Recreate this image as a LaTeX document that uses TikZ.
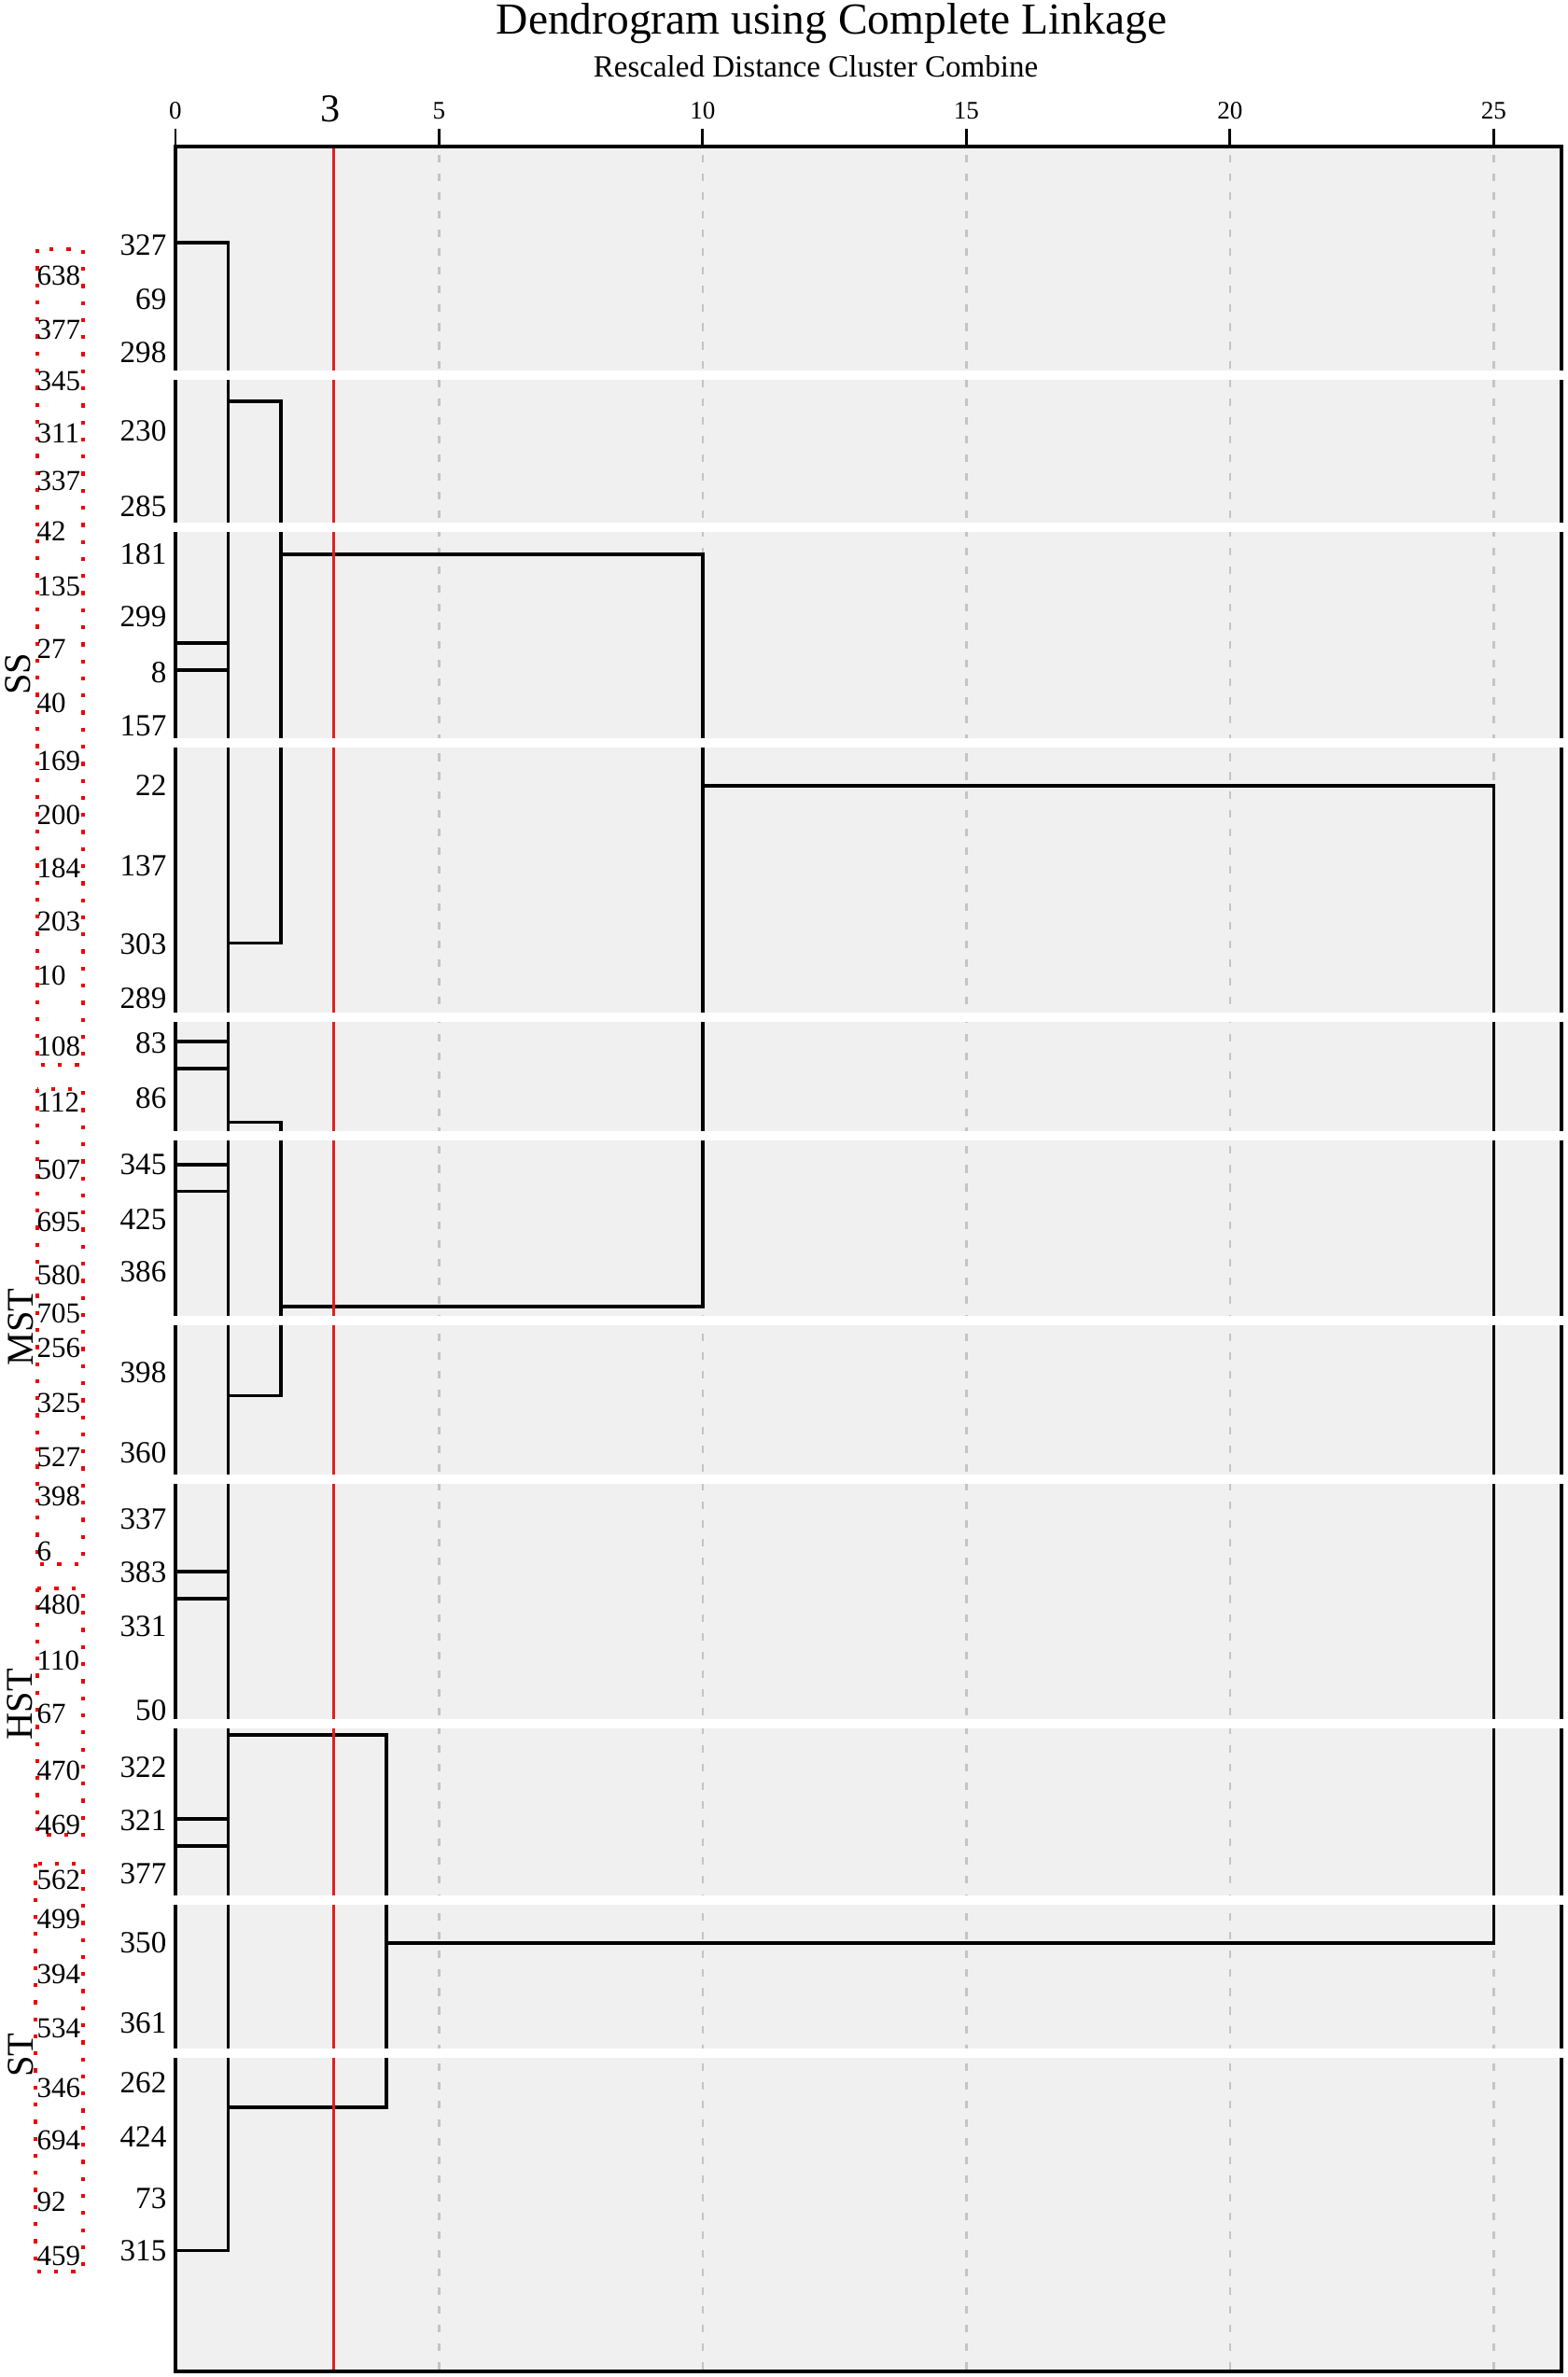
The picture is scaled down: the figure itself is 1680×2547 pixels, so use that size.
\documentclass[tikz,border=0pt]{standalone}
\usepackage{fontspec}
\setmainfont{Liberation Serif}

% colours of the figure
\definecolor{plotgray}{HTML}{F0F0F0}
\definecolor{gridgray}{HTML}{C4C4C4}
\definecolor{cutred}{HTML}{E0201E}
\definecolor{boxred}{HTML}{F00000}

\begin{document}
\begin{tikzpicture}[
        % --- GENERAL SETTINGS: 1 unit = 1 pixel of the figure ---
        x=0.01cm, y=-0.01cm,
        % branches of the dendrogram
        branch/.style={
            black,
            line width=1pt % thickness of the tree lines
        },
        % dashed grid line every 5 units
        gridline/.style={
            gridgray,
            line width=0.7pt,
            dash pattern=on 2.3pt off 3.4pt
        },
        % red cut at distance 3
        cutline/.style={
            cutred,
            line width=0.85pt
        },
        % white strips where the figure was cut
        band/.style={
            fill=white,
            draw=none
        },
        % case numbers next to the tree (right aligned)
        leaf/.style={
            anchor=east,
            inner sep=0pt,
            font=\fontsize{9.4}{11}\selectfont
        },
        % case numbers inside the red boxes (left aligned)
        member/.style={
            anchor=west,
            inner sep=0pt,
            font=\fontsize{8.8}{10}\selectfont
        },
        % red dotted boxes of the groups
        groupbox/.style={
            boxred,
            line width=1.2pt,
            dash pattern=on 1.2pt off 4pt
        },
        % group names, turned upwards
        grouplabel/.style={
            rotate=90,
            inner sep=0pt,
            font=\fontsize{11.5}{13}\selectfont
        },
        % numbers of the scale
        ticklabel/.style={
            inner sep=0pt,
            font=\fontsize{7.7}{9}\selectfont
        }
    ]

    % --- FRAME OF THE PICTURE ---
    \useasboundingbox (0,0) rectangle (1680,2547);

    % --- TITLES ---
    \node[anchor=base, inner sep=0pt, font=\fontsize{13.5}{16}\selectfont] (title) at (891,36) {Dendrogram using Complete Linkage};
    \node[anchor=base, inner sep=0pt, font=\fontsize{9.4}{11}\selectfont] (subtitle) at (874,82) {Rescaled Distance Cluster Combine};

    % --- PLOT AREA ---
    \fill[plotgray] (188,157) rectangle (1673,2541);

    % x in distance units from here on
    \begin{scope}[shift={(188,0)}, x=0.5646cm]
        % Grid lines
        \foreach \d in {5,10,15,20,25}
            \draw[gridline] (\d,166) -- (\d,2539);

        % Scale with its ticks
        \foreach \d in {0,5,...,25} {
            \draw[line width=0.85pt] (\d,138) -- (\d,157);
            \node[ticklabel] (t\d) at (\d,119) {\d};
        }
        \node[inner sep=0pt, font=\fontsize{12}{14}\selectfont] (cut) at (2.94,117) {3};

        % Merges at distance 1
        \draw[branch] (0,260) -| (1,2411.7) -- (0,2411.7);
        \foreach \y in {689,718,1116,1145,1248,1276.5,1684,1713,1949,1978}
            \draw[branch] (0,\y) -- (1,\y);

        % Merges at distance 2
        \draw[branch] (1,430) -| (2,1010.5) -- (1,1010.5);
        \draw[branch] (1,1202.6) -| (2,1495.7) -- (1,1495.7);

        % Merge at distance 4
        \draw[branch] (1,1859) -| (4,2258) -- (1,2258);

        % Merge at distance 10
        \draw[branch] (2,594) -| (10,1400) -- (2,1400);

        % Last merge at distance 25
        \draw[branch] (10,842) -| (25,2082) -- (4,2082);

        % Red cut line
        \draw[cutline] (3,156) -- (3,2541);
    \end{scope}

    % Border of the plot
    \draw[line width=0.9pt] (188,157) rectangle (1673,2541);

    % White strips across the plot
    \foreach \y in {402,564.5,796,1090,1217,1415,1584.5,1846.5,2035.5,2199.5}
        \fill[band] (184,{\y-5}) rectangle (1680,{\y+5});

    % --- CASE NUMBERS OF THE TREE ---
    \foreach \y/\t in {263/327, 320.5/69, 378/298, 462/230, 542.5/285, 594/181,
                       661/299, 720.5/8, 778/157, 842/22, 928/137, 1012/303,
                       1070/289, 1117.6/83, 1177/86, 1248/345, 1307/425, 1362.6/386,
                       1471/398, 1557/360, 1627.7/337, 1685/383, 1742.5/331, 1832.5/50,
                       1893.7/322, 1951/321, 2008/377, 2082/350, 2167.5/361, 2232/262,
                       2289.6/424, 2356/73, 2411.7/315}
        \node[leaf] (in\t) at (179,\y) {\t};

    % --- GROUPS ---
    \draw[groupbox] (40,267) rectangle (89,1141);
    \draw[groupbox] (40,1167) rectangle (89,1676);
    \draw[groupbox] (40,1702) rectangle (89,1966);
    \draw[groupbox] (38,1997) rectangle (89,2434);

    % Members of the groups
    \foreach \y/\t in {295.7/638, 353/377, 408.6/345, 464/311, 515.7/337, 569/42,
                       628.6/135, 695.6/27, 753/40, 815/169, 873/200, 930/184,
                       987.5/203, 1045/10, 1121.5/108,
                       1181/112, 1253.5/507, 1309/695, 1366/580, 1407/705, 1444/256,
                       1503/325, 1561/527, 1603/398, 1662/6,
                       1719.6/480, 1779/110, 1836/67, 1897.5/470, 1955/469,
                       2014/562, 2056/499, 2115/394, 2173/534, 2237/346, 2293/694,
                       2359/92, 2417/459}
        \node[member] (out\t) at (39,\y) {\t};

    % Names of the groups
    \node[grouplabel] (SS) at (19,722) {SS};
    \node[grouplabel] (MST) at (22,1422) {MST};
    \node[grouplabel] (HST) at (21,1826) {HST};
    \node[grouplabel] (ST) at (22,2202) {ST};

\end{tikzpicture}
\end{document}
